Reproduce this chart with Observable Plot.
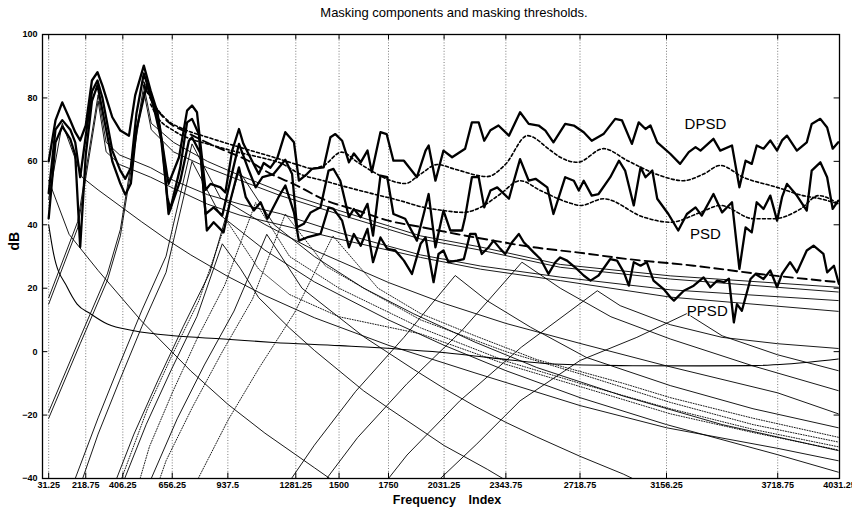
<!DOCTYPE html>
<html><head><meta charset="utf-8">
<script src="https://cdn.jsdelivr.net/npm/d3@7"></script>
<script src="https://cdn.jsdelivr.net/npm/@observablehq/plot@0.6"></script>
<style>
body{margin:0;background:#fff;font-family:"Liberation Sans",Arial,sans-serif;}
#title{height:24px;width:852px;box-sizing:border-box;padding-left:56px;padding-top:3px;text-align:center;font-size:13px;line-height:20px;color:#000}
</style></head><body>
<div id="title">Masking components and masking thresholds.</div>
<div id="chart"></div>
<script>
const BIN = 31.25; // Hz per frequency index
const xTicks = [31.25,218.75,406.25,656.25,937.5,1281.25,1500,1750,2031.25,2343.75,2718.75,3156.25,3718.75,4031.25];
const yTicks = [-40,-20,0,20,40,60,80,100];

// [bin, dB]
const dpsd = [[1,60],[2.1,72.9],[3.2,78.6],[4.5,72.9],[5.3,69.2],[6.1,66.6],[7,71.3],[8,85.5],[8.9,88.1],[9.7,83.9],[11.3,73.9],[12.6,69.7],[14,68.1],[15,80.8],[16.4,90.2],[17.5,82.3],[18.6,75.5],[20.4,52.9],[22.1,61.3],[23.4,76],[24.2,77.6],[25,75.5],[26.1,56],[26.4,51],[27.2,52.9],[28.8,51.8],[29.6,50.2],[30.7,63.4],[31.8,70.2],[32.5,65.6],[33.7,61],[35,56],[35.8,59.5],[36.9,58],[38,61],[39.3,69.2],[40.7,66],[41.5,53.9],[42.8,56],[43.6,57.6],[45.5,58.1],[46.6,67.6],[47.4,68.6],[48.5,66.5],[49.6,59.7],[50.4,62.5],[51.5,59.7],[52.6,63.4],[53.3,56.6],[54.7,69.2],[55.7,68.6],[56.8,60.2],[58.5,60.2],[60.6,55],[62,63.4],[62.5,65],[63.6,53.9],[64.9,63.4],[66.3,61.3],[68.4,64],[69.5,72.3],[70.6,72.3],[71.5,66.5],[72.5,69.8],[73.8,71.3],[75.5,68.1],[77.3,75.5],[78.7,71.8],[80.3,71.3],[81.4,69.7],[82.7,66],[84.6,71.8],[86,71.3],[87.6,69.2],[88.9,66.5],[90.8,68.6],[92.7,73.4],[93.8,72.9],[95.4,65.5],[96.5,72.3],[97.6,70.2],[98.4,71.3],[99.5,66],[101.6,62.4],[103.2,59.2],[104.6,62.9],[105.7,64.5],[106.5,63.4],[108.6,67.1],[109.7,63.4],[111.6,65],[112.8,51.8],[113.8,60.2],[114.8,59.2],[115.6,65],[116.7,64],[117.8,66.6],[118.9,63.4],[119.7,66.6],[120.5,68.1],[122.1,63.4],[123.7,66],[124.5,71.8],[125.9,73.4],[127,70.7],[127.9,64],[128.8,66]];
const psd = [[1,50],[2.1,70],[3.2,73],[4.5,70],[5.3,66],[6.1,55],[7,68],[8,82],[8.9,85.5],[9.7,80],[11.3,63.4],[12.6,57.1],[13.4,54.5],[14.3,58],[15.2,75],[16.4,87.7],[17.6,80.2],[19,70.8],[20.2,48.7],[20.7,45],[22.3,58.1],[23.4,72.3],[24.2,73.4],[25.3,68.6],[26.4,43.4],[27.7,45.5],[29.1,42.9],[30.9,58.1],[31.8,65.5],[33.4,57.1],[34.5,51.8],[35.6,55],[37.4,56],[39.3,60.5],[40.4,56],[41.2,39.2],[42.3,40.3],[43.4,43.9],[45,45.5],[46.3,57.1],[47.1,57.6],[48.2,53.9],[49.6,42.4],[50.4,45],[51.5,42.4],[52.6,46.6],[53.5,36.6],[54.7,55.5],[55.8,55],[56.8,43.4],[58.7,41.9],[60.6,35],[61.7,43.4],[62.5,49.7],[63.6,32.9],[64.9,44.5],[66,38.2],[67.9,38.2],[68.4,42.4],[69.5,55],[70.6,55],[71.5,45.5],[72.5,50.8],[73.6,51.8],[75.5,48.2],[76.3,53.9],[77.3,60.7],[78.7,53.9],[79.8,54.5],[81.7,51.8],[82.7,43.4],[84.6,55],[86,53.9],[86.8,50.8],[87.6,53.9],[88.9,49.2],[90,49.7],[91.9,55],[93.3,60.2],[94.3,57.1],[95.7,46.1],[96.8,58.1],[97.6,55],[98.7,57.1],[99.5,48.2],[101.3,43.4],[102.9,38.2],[104.3,43.4],[105.7,45.5],[106.7,42.9],[108.6,49.7],[110,43.9],[111.6,47.1],[112.8,26.1],[113.8,39.2],[114.8,37.6],[115.6,47.1],[116.7,45],[117.8,49.2],[118.9,41.3],[119.7,48.7],[120.5,52.9],[122.1,49.2],[123.7,44.5],[124.5,57.1],[125.9,59.7],[127,55],[127.9,45],[128.8,47.6]];
const ppsd = [[1,42],[2.1,66],[3.2,71],[4.5,67],[5.3,62],[6.1,33],[7,62],[8,79],[8.9,84],[9.7,76],[11.3,60],[12.6,53],[13.4,49.5],[14.3,53],[15.2,70],[16.9,84.4],[18,77.1],[19.4,65.5],[20.4,43.4],[22.3,53.9],[23.7,66.5],[24.2,67.6],[25.6,62.4],[26.6,38.2],[27.7,40.8],[29.3,37.6],[30.4,47.6],[31.8,58.1],[32.9,48.7],[34.2,44.5],[35.3,47.1],[36.4,41.9],[38.2,48.7],[39.3,52.4],[40.7,43.9],[41.5,35],[42.8,36],[45,37.1],[46.3,45.5],[47.1,45],[48.5,41.3],[49.6,32.9],[50.4,37.1],[51.5,33.4],[52.6,38.7],[53.5,28.2],[54.7,36],[55.8,32.4],[57.1,31.9],[58.5,28.7],[59.8,24.5],[61.2,34],[62,36],[63.3,21.9],[64.1,30.8],[64.9,31.9],[65.7,28.2],[67.1,28.7],[68.2,29.2],[69.2,37.1],[70.1,37.1],[71.1,30.8],[72.2,32.9],[73,35],[74.1,32.4],[74.9,30.8],[76,34.5],[77.1,37.1],[77.9,34.5],[79.5,31.3],[80.6,29.2],[81.9,24.5],[83,28.2],[83.8,29.7],[84.9,28.7],[86.2,26.6],[87.6,24],[88.7,22.4],[90,24],[91.9,29.2],[93,28.7],[94.1,25],[94.9,20.8],[95.7,28.2],[96.8,27.1],[97.8,28.2],[98.9,22.4],[100.5,19.8],[101.6,17.2],[102.2,16.1],[103.8,19.2],[105.4,20.8],[107,23.4],[108.1,20.3],[109.2,22.4],[110.3,21.9],[111.1,23],[111.9,9.2],[112.4,15],[113.2,12.9],[114.6,22.9],[115.4,24.5],[116.7,22.9],[117.8,25.6],[118.9,20.3],[119.7,24.5],[121,28.2],[122.1,25],[123.7,31.9],[124.8,33.4],[126.4,30.8],[127,25],[128.1,27.1],[128.9,21.4]];

// masking thresholds
const thrDpsd = [[16.4,85],[17.5,80],[20.2,73],[22.8,70.2],[26.7,67.6],[32,64.4],[37.4,61.3],[41.7,58.7],[43.4,57.8],[45.5,58.7],[48.4,62.9],[51,59.7],[53.6,56.6],[56.3,54],[58.7,53],[61.2,56],[63.9,59],[66.8,57.5],[72,55.2],[74.9,59],[78.5,68.1],[82.2,63.5],[83.8,61.3],[86.6,59.7],[90.8,64],[94.7,60.2],[100,55.5],[103.7,53.9],[107,56],[109.7,58.7],[113.4,55],[118.9,51.8],[123.1,49.2],[125.9,48.2],[128.8,46.6]];
const thrPsd = [[17.5,78],[18.6,74],[21.2,69.7],[23.9,67.1],[26.7,65.5],[32,62.7],[36.4,60.7],[38.5,59.5],[41.7,56],[45.5,53.9],[49.4,51.8],[53.6,49.7],[57.9,47.6],[61.7,45.5],[64.9,44.5],[68.1,43.9],[70.9,45.5],[74.1,49.7],[77.3,53.9],[80.6,50.8],[85,47.1],[87.1,46.1],[90.8,48.2],[97.3,42.4],[101.6,40.8],[106.5,43.9],[109.7,46.1],[115.1,41.9],[118.3,41.9],[122.7,45],[125.6,49.2],[128.8,46.6]];
const thrPpsd = [[16.4,84],[18,78],[20,73],[23,69.5],[26,66.5],[30,63],[33,60.5],[37,56],[40.6,52.9],[46,47.6],[51,44.5],[56,41.3],[61.5,39.2],[67,37.1],[73,35],[79.5,32.9],[86.5,31.3],[94.7,29.2],[105.4,27.1],[116,24.5],[128.8,21.9]];

// absolute threshold
const ath = [[1,40],[1.8,30.8],[4,20.3],[5.6,15],[7.8,11.9],[10.5,8.7],[14.8,6.6],[21.2,5],[29.3,4],[37.4,2.9],[48.2,1.9],[64.4,-0.2],[72,-1.8],[82.7,-3.9],[93.5,-4.4],[106.5,-4.5],[115.1,-4.4],[120.5,-3.9],[128.8,-2.3]];

// masking components (solid)
const compT1 = [[1,-19],[6.1,4.5],[10.5,24.5],[12.6,38.5],[16.4,84],[17.6,72],[21.2,66],[26.7,60],[32,55.5],[38.5,50.5],[48,44.5],[61.2,36.5],[70.9,33],[83.8,27.5],[101.6,23.9],[128.8,20.3]];
const compT2 = [[1,-21],[6.1,2.5],[10.5,22.5],[12.6,36.5],[16.4,82],[17.6,70],[21.2,63],[26.7,58],[32,54],[38.5,49.2],[48,43.3],[61.2,35.5],[70.9,32],[83.8,26.6],[101.6,22.9],[128.8,18.8]];
const compT3 = [[1,17],[5.7,41],[9,81],[10.3,66],[12.5,62],[17.5,58],[21.2,54],[26.7,49.5],[32,46.5],[38.5,43.5],[48,37.5],[61.2,30.5],[70.9,27],[83.8,23.5],[101.6,19.5],[128.8,16.1]];
const compT4 = [[1,15],[5.7,39],[9,79],[10.3,63],[12.5,59],[17.5,55],[21.2,51.5],[26.7,46.5],[32,43],[38.5,40],[48,35.5],[61.2,29.7],[70.9,26],[83.8,22.4],[101.6,17.2],[128.8,12.7]];
const compSa = [[1,48],[3.2,72],[6.4,55],[9,51],[16,41],[20,35.5],[24,30.5],[30,23.7],[36,17.7],[44,10.7],[56,2],[70,-6.7],[87,-17],[101,-24],[119,-30.5],[128.8,-34.4]];
const compSb = [[1,54],[4.3,37],[9,25.6],[16,9.7],[24,-6.1],[30,-16.6],[36,-25.7],[44,-36.6],[46.5,-40]];
const compSd = [[6.5,-40],[9,-26],[12.5,-9],[16.1,8],[20,25],[24.2,60],[28.8,43],[36,32],[44,22],[56,10],[65,2],[75,-6],[87,-14.5],[101,-23],[119,-32.5],[128.8,-38]];
const compM4 = [[5.3,-40],[9,-20.9],[12.5,-3.9],[16.1,13.1],[20,30.1],[24.2,65.5],[28.8,48.5],[36,40.1],[44,32],[56,21.8],[65,15.2],[75,8.9],[87,2.6],[101,-4.5],[119,-13],[128.8,-19.6]];
const compM13 = [[12,-40],[14.8,-26],[18.7,-9],[22.8,8],[27.1,25],[31.8,57],[37.5,40],[44,30],[52,20],[60,12],[70,3],[80,-5],[94,-14],[110,-23],[128.8,-31.2]];
const compM5 = [[13.3,-40],[16.8,-22.9],[20.8,-5.9],[25,11.1],[29.1,34],[32,26.3],[35,17],[40,7.4],[44,0.4],[48,-6],[52,-12.4],[56,-17.8],[65,-29.6],[72,-37.1],[74.5,-40]];
const compM6 = [[17.6,-40],[21.8,-21.2],[26.2,-4.2],[31,12.8],[36.3,37],[42,20],[48,10.8],[52,4.7],[56,-0.4],[60,-5.5],[65,-11.6],[70,-17.2],[75,-22.3],[80,-26.9],[87,-33],[94,-38.6],[95.5,-40]];
const compM9 = [[40.3,-40],[44,-29.5],[50.7,-12.5],[58.5,4.5],[66.8,24],[72,16],[79,7.7],[88,-1.8],[101.6,-10.7],[115,-18],[128.8,-24]];
const compM10 = [[46,-40],[51,-27.1],[59,-10.1],[68,6.9],[77.6,28.2],[83.8,20],[92,11],[101.6,4],[115,-4.5],[128.8,-12.3]];
const compM11 = [[56,-40],[59,-32.6],[67.5,-15.6],[77.5,1.4],[89.8,19.2],[93.5,14.5],[101.6,8.5],[110,4.5],[119,2.5],[128.8,1]];
const compM12 = [[64.4,-40],[70.3,-29.1],[77.3,-15.5],[87,-2.8],[96.2,4.5],[104.3,12],[110,5],[119,-1],[128.8,-6]];
// masking components (dotted)
const compD1 = [[12.8,-40],[17,-18],[21,-1],[25.3,16],[29.8,41.3],[35,26],[40,18],[48,11],[61.2,5.6],[75,-4],[87,-11],[101.6,-19.6],[115,-25.5],[128.8,-31]];
const compD2 = [[19,-40],[20,-34.4],[24.3,-17.4],[29,-0.4],[34,16.6],[39.3,43.4],[45.8,27],[52,20],[61.2,10],[75,0],[87,-7],[101.6,-16],[115,-23],[128.8,-28.5]];
const compD3 = [[25.2,-40],[30,-21.7],[35.2,-4.7],[40.8,12.3],[47,36.5],[54.3,20],[61.2,12],[70,5],[80,-2.5],[94,-10],[101.6,-14.5],[115,-21],[128.8,-27]];
const compD4 = [[15.8,-40],[17.3,-30],[21,-13],[25,4],[29.5,21],[34.5,47],[40,30],[48,20],[61.2,7.5],[75,-3],[87,-10],[101.6,-18],[115,-24.5],[128.8,-30]];

const labelText = ["DPSD","PSD","PPSD"];
const labelBin = [107.3,107.3,107.6];
const labelDb = [71.8,37.1,12.9];

const rows = (name, pts) => pts.map(([k, v]) => ({s: name, f: k * BIN, v}));
const solidComps = [
  ["T1",compT1],["T2",compT2],["T3",compT3],["T4",compT4],["Sa",compSa],["Sb",compSb],["Sd",compSd],
  ["M4",compM4],["M13",compM13],["M5",compM5],["M6",compM6],["M9",compM9],["M10",compM10],["M11",compM11],["M12",compM12]
].flatMap(([n, p]) => rows(n, p));
const dottedComps = [["D1",compD1],["D2",compD2],["D3",compD3],["D4",compD4]].flatMap(([n, p]) => rows(n, p));
const labels = labelText.map((t, i) => ({t, f: labelBin[i] * BIN, v: labelDb[i]}));

const chart = Plot.plot({
  width: 852, height: 485,
  marginLeft: 42, marginRight: 13, marginTop: 10, marginBottom: 31,
  x: {domain: [0, 4031.25]},
  y: {domain: [-40, 100]},
  style: {fontFamily: "'Liberation Sans', Arial, sans-serif", color: "#000", background: "#fff", overflow: "hidden"},
  marks: [
    Plot.ruleX(xTicks, {x: d => d, stroke: "#000", strokeWidth: 0.7, strokeDasharray: "1,1.8", strokeOpacity: 0.75}),
    Plot.line(dottedComps, {x: "f", y: "v", z: "s", stroke: "#000", strokeWidth: 0.9, strokeDasharray: "1,1.6"}),
    Plot.line(solidComps, {x: "f", y: "v", z: "s", stroke: "#000", strokeWidth: 0.9}),
    Plot.line(rows("ath", ath), {x: "f", y: "v", stroke: "#000", strokeWidth: 1.1, curve: "monotone-x"}),
    Plot.line(rows("thrD", thrDpsd), {x: "f", y: "v", stroke: "#000", strokeWidth: 1.6, strokeDasharray: "3,2.4", curve: "monotone-x"}),
    Plot.line(rows("thrP", thrPsd), {x: "f", y: "v", stroke: "#000", strokeWidth: 1.6, strokeDasharray: "3,2.4", curve: "monotone-x"}),
    Plot.line(rows("thrPP", thrPpsd), {x: "f", y: "v", stroke: "#000", strokeWidth: 1.9, strokeDasharray: "9,5", curve: "monotone-x"}),
    Plot.line(rows("ppsd", ppsd), {x: "f", y: "v", stroke: "#000", strokeWidth: 2.3, strokeLinejoin: "round"}),
    Plot.line(rows("psd", psd), {x: "f", y: "v", stroke: "#000", strokeWidth: 2.3, strokeLinejoin: "round"}),
    Plot.line(rows("dpsd", dpsd), {x: "f", y: "v", stroke: "#000", strokeWidth: 2.3, strokeLinejoin: "round"}),
    Plot.text(labels, {x: "f", y: "v", text: "t", fontSize: 15, fill: "#000", stroke: "#fff", strokeWidth: 2, paintOrder: "stroke"}),
    Plot.ruleX(xTicks, {x: d => d, y1: -40, y2: -38.3, stroke: "#000", strokeWidth: 1}),
    Plot.ruleX(xTicks, {x: d => d, y1: 100, y2: 98.3, stroke: "#000", strokeWidth: 1}),
    Plot.ruleY(yTicks, {y: d => d, x1: 0, x2: 27, stroke: "#000", strokeWidth: 1}),
    Plot.ruleY(yTicks, {y: d => d, x1: 4004, x2: 4031.25, stroke: "#000", strokeWidth: 1}),
    Plot.frame({stroke: "#000", strokeWidth: 1.3}),
    Plot.axisX(xTicks, {tickSize: 0, tickPadding: 3, fontSize: 9, fontWeight: "bold", label: null, tickFormat: d => String(d)}),
    Plot.axisY(yTicks, {tickSize: 0, tickPadding: 5, fontSize: 9, fontWeight: "bold", label: null}),
    Plot.text(["Frequency\u2003Index"], {frameAnchor: "bottom", dy: 25, dx: 6, fontSize: 12.5, fontWeight: "bold"}),
    Plot.text(["dB"], {frameAnchor: "left", dx: -28, dy: -6, rotate: -90, fontSize: 14, fontWeight: "bold"})
  ]
});
document.getElementById("chart").appendChild(chart);
</script>
</body></html>
